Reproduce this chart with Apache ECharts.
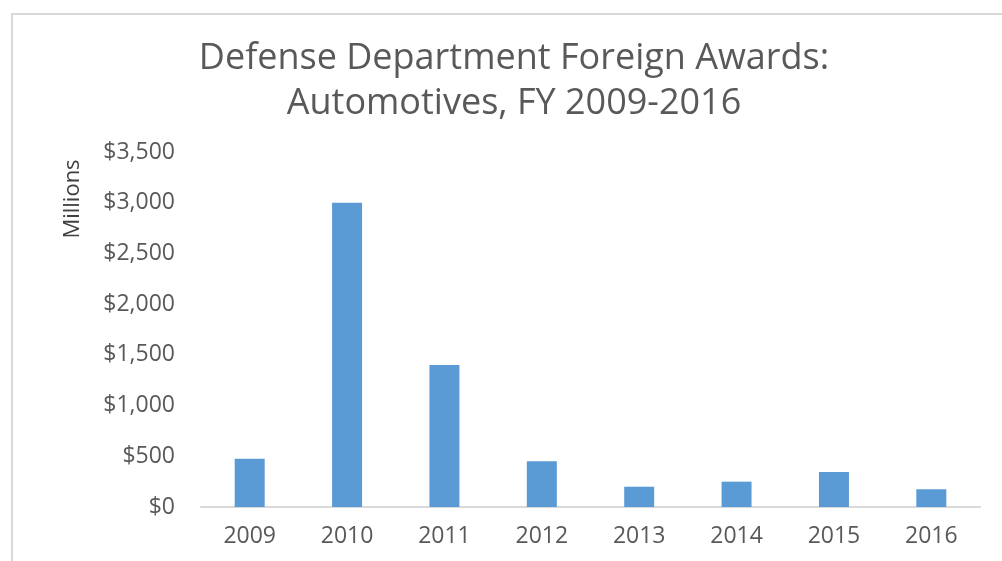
<!DOCTYPE html>
<html>
<head>
<meta charset="utf-8">
<script src="https://cdn.jsdelivr.net/npm/echarts@6/dist/echarts.min.js"></script>
<style>
  html, body { margin: 0; padding: 0; background: #fff; }
  #chart { width: 1002px; height: 561px; }
</style>
</head>
<body>
<div id="chart"></div>
<script>
const years = ['2009', '2010', '2011', '2012', '2013', '2014', '2015', '2016'];
const awards = [475, 3000, 1400, 450, 200, 250, 345, 175];
const titleLines = ['Defense Department Foreign Awards:', 'Automotives, FY 2009-2016'];
const yName = 'Millions';

const textColor = '#595959';
const font = 'Open Sans';

var myChart = echarts.init(document.getElementById('chart'));
var option;

option = {
  backgroundColor: '#fff',
  animation: false,
  grid: {
    left: 201,
    right: 22,
    top: 152,
    bottom: 54,
    containLabel: false
  },
  xAxis: {
    type: 'category',
    data: years,
    axisLine: { lineStyle: { color: '#d9d9d9', width: 2 } },
    axisTick: { show: false },
    axisLabel: {
      color: textColor,
      fontFamily: font,
      fontSize: 23,
      margin: 18
    }
  },
  yAxis: {
    type: 'value',
    min: 0,
    max: 3500,
    interval: 500,
    splitLine: { show: false },
    axisLine: { show: false },
    axisTick: { show: false },
    axisLabel: {
      color: textColor,
      fontFamily: font,
      fontSize: 23,
      margin: 26,
      formatter: function (v) {
        return '$' + v.toLocaleString('en-US');
      }
    }
  },
  graphic: [
    {
      type: 'polyline',
      shape: { points: [[12, 561], [12, 14], [1002, 14]] },
      style: { stroke: '#d9d9d9', lineWidth: 2, fill: null }
    },
    {
      // chart title, centred a little right of the canvas middle
      type: 'text',
      x: 514,
      y: 36,
      style: {
        text: titleLines.join('\n'),
        fontFamily: font,
        fontSize: 36,
        lineHeight: 45,
        fill: textColor,
        textAlign: 'center',
        textVerticalAlign: 'top'
      }
    },
    {
      type: 'text',
      x: 73,
      y: 199,
      rotation: Math.PI / 2,
      style: {
        text: yName,
        fontFamily: font,
        fontSize: 22,
        fill: '#404040',
        textAlign: 'center',
        textVerticalAlign: 'middle'
      }
    }
  ],
  series: [
    {
      type: 'bar',
      data: awards,
      barWidth: 30,
      itemStyle: { color: '#5B9BD5' }
    }
  ]
};

option && myChart.setOption(option);
</script>
</body>
</html>
